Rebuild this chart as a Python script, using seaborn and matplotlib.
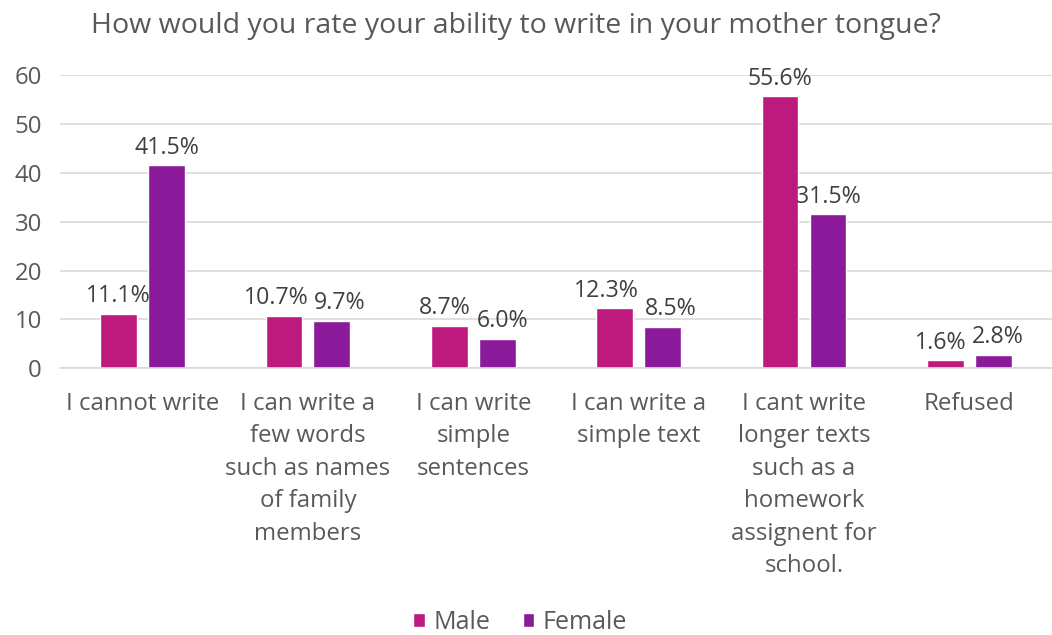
import matplotlib
matplotlib.use("Agg")
import matplotlib.pyplot as plt
import seaborn as sns
import pandas as pd

categories = [
    "I cannot write",
    "I can write a\nfew words\nsuch as names\nof family\nmembers",
    "I can write\nsimple\nsentences",
    "I can write a\nsimple text",
    "I cant write\nlonger texts\nsuch as a\nhomework\nassignent for\nschool.",
    "Refused",
]
male = [11.1, 10.7, 8.7, 12.3, 55.6, 1.6]
female = [41.5, 9.7, 6.0, 8.5, 31.5, 2.8]
series = ["Male", "Female"]
colors = ["#BE1A7E", "#8A1A9A"]

df = pd.DataFrame({
    "category": categories * 2,
    "value": male + female,
    "gender": ["Male"] * len(categories) + ["Female"] * len(categories),
})

sns.set_theme(style="white")
plt.rcParams["font.family"] = ["Open Sans", "DejaVu Sans"]

fig = plt.figure(figsize=(10.52, 6.35), dpi=100)
ax = fig.add_axes([0.057, 0.42, 0.943, 0.462])

sns.barplot(data=df, x="category", y="value", hue="gender", hue_order=series,
            palette=colors, width=0.58, gap=0.23, ax=ax, legend=True,
            saturation=1)

label_sets = [ax.bar_label(c, fmt="%.1f%%", padding=4, fontsize=16.7, color="#404040")
              for c in ax.containers]

ax.set_ylim(0, 60)
ax.set_xlim(-0.5, 5.5)
ax.set_yticks(range(0, 61, 10))
ax.yaxis.grid(True, color="#D9D9D9", linewidth=1.2)
ax.set_axisbelow(True)
for s in ["top", "right", "left"]:
    ax.spines[s].set_visible(False)
ax.spines["bottom"].set_color("#D9D9D9")
ax.spines["bottom"].set_linewidth(1.2)
ax.tick_params(axis="x", length=0, labelsize=17.3, colors="#595959", pad=17)
ax.tick_params(axis="y", length=0, labelsize=17.3, colors="#595959", pad=13)
ax.set_xlabel("")
ax.set_ylabel("")
for lbl in ax.get_xticklabels():
    lbl.set_linespacing(1.47)
    lbl.set_verticalalignment("top")

ax.set_title("How would you rate your ability to write in your mother tongue?",
             fontsize=20.5, color="#595959", pad=30, x=0.46)

ax.legend(loc="lower center", bbox_to_anchor=(0.464, -0.985), ncol=2, frameon=False,
          fontsize=18, labelcolor="#595959", handlelength=0.45, handleheight=0.45,
          handletextpad=0.35, columnspacing=1.3)

# push apart neighbouring value labels that would collide
fig.canvas.draw()
renderer = fig.canvas.get_renderer()
for m_lbl, f_lbl in zip(label_sets[0], label_sets[1]):
    bm = m_lbl.get_window_extent(renderer)
    bf = f_lbl.get_window_extent(renderer)
    vertical_clear = bm.y1 < bf.y0 or bf.y1 < bm.y0
    overlap = bm.x1 + 6 - bf.x0
    if overlap > 0 and not vertical_clear:
        shift = overlap / 2
        for lbl, sign in ((m_lbl, -1), (f_lbl, 1)):
            x, y = lbl.xyann
            lbl.xyann = (x + sign * shift * 72 / fig.dpi, y)

fig.savefig("out.png", dpi=100)
